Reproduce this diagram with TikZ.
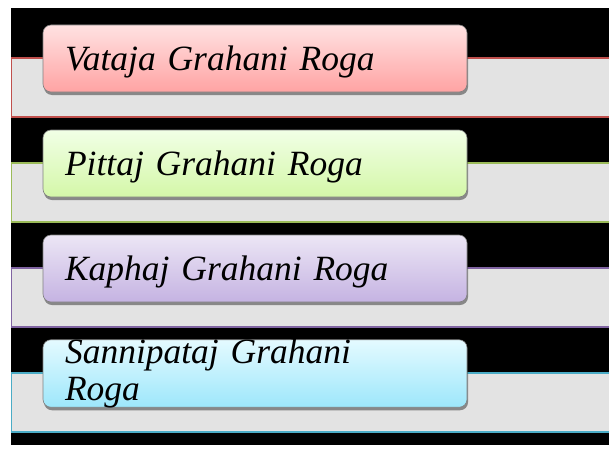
\documentclass[tikz,border=0pt]{standalone}
\usepackage{fontspec}
\setmainfont{Liberation Serif}
\usetikzlibrary{shadows}
\definecolor{bandgr}{HTML}{E3E3E3}
\definecolor{rotr}{HTML}{C0504D}
\definecolor{roto}{HTML}{FFE2E2}
\definecolor{rotu}{HTML}{FFA3A3}
\definecolor{gruenr}{HTML}{9BBB59}
\definecolor{grueno}{HTML}{F1FFE6}
\definecolor{gruenu}{HTML}{D4F7A8}
\definecolor{lilar}{HTML}{8064A2}
\definecolor{lilao}{HTML}{ECE6F5}
\definecolor{lilau}{HTML}{C5B3E2}
\definecolor{blaur}{HTML}{4BACC6}
\definecolor{blauo}{HTML}{E4FAFF}
\definecolor{blauu}{HTML}{9DE7FB}
\tikzset{
  band/.style={fill=bandgr,draw=#1,line width=1.4pt},
  rogabox/.style 2 args={rounded corners=8pt,top color=#1,bottom color=#2,
    draw=black!50,line width=0.6pt,
    drop shadow={shadow xshift=1pt,shadow yshift=-3pt,opacity=0.4,fill=black},
    minimum width=424pt,minimum height=67pt,text width=380pt,
    inner xsep=22pt,inner ysep=0pt,align=left,text height=23.5pt,text depth=0pt,
    font=\itshape\fontsize{35.5}{37}\selectfont},
}
\begin{document}
\begin{tikzpicture}[x=1pt,y=-1pt]
  \useasboundingbox (0,0) rectangle (609,452);
  \fill[white] (0,0) rectangle (609,452);
  \fill[black] (11,8) rectangle (609,445);
  \draw[band=rotr] (11.7,58) rectangle (614,117);
  \draw[band=gruenr] (11.7,163) rectangle (614,222);
  \draw[band=lilar] (11.7,268) rectangle (614,327);
  \draw[band=blaur] (11.7,373) rectangle (614,432);
  \node[rogabox={roto}{rotu}] (vataja) at (255,58.5) {Vataja Grahani Roga};
  \node[rogabox={grueno}{gruenu}] (pittaj) at (255,163.5) {Pittaj Grahani Roga};
  \node[rogabox={lilao}{lilau}] (kaphaj) at (255,268.5) {Kaphaj Grahani Roga};
  \node[rogabox={blauo}{blauu},text depth=44pt] (sannipataj) at (255,373.5) {Sannipataj Grahani\\Roga};
\end{tikzpicture}
\end{document}
